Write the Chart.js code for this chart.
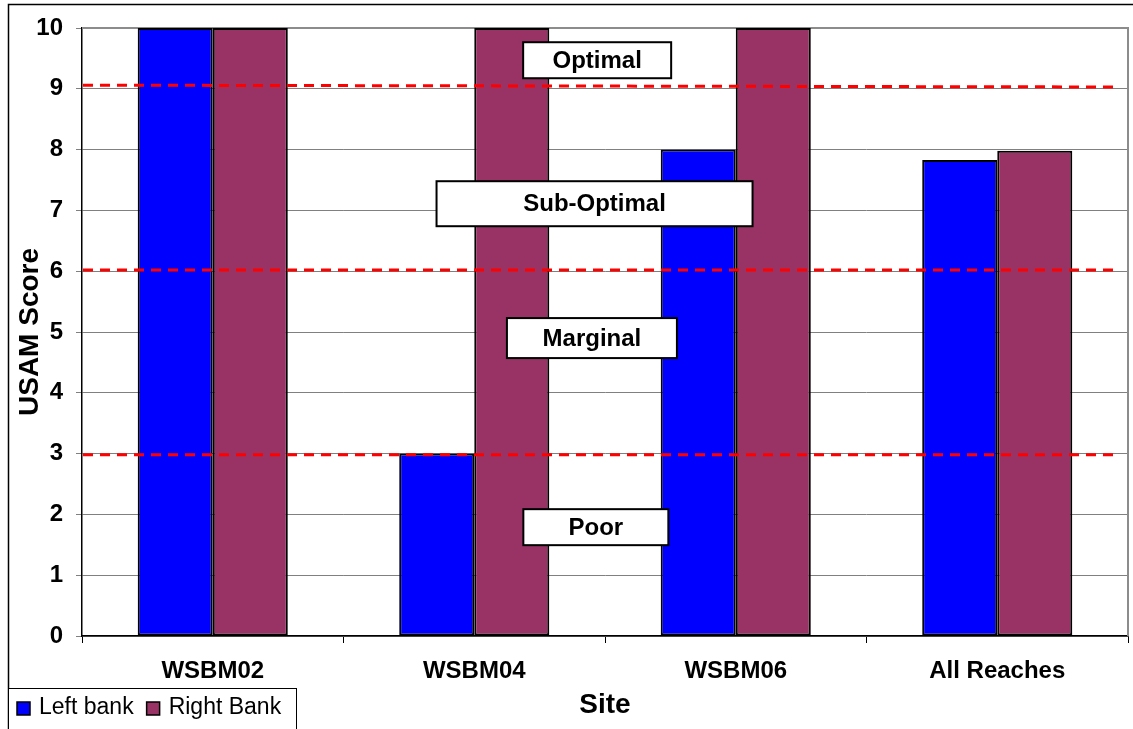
<!DOCTYPE html>
<html>
<head>
<meta charset="utf-8">
<script src="https://cdn.jsdelivr.net/npm/chart.js@4.4.1/dist/chart.umd.min.js"></script>
<style>
  html, body { margin: 0; padding: 0; background: #ffffff; }
  #wrap { position: relative; width: 1133px; height: 729px; }
  canvas { display: block; }
</style>
</head>
<body>
<div id="wrap"><canvas id="c" width="1133" height="729"></canvas></div>
<script>
// ---- data ----
const sites = ['WSBM02', 'WSBM04', 'WSBM06', 'All Reaches'];
const leftBank = [10, 3, 8, 7.83];
const rightBank = [10, 10, 10, 7.98];
const seriesNames = ['Left bank', 'Right Bank'];
const yTicks = [0, 1, 2, 3, 4, 5, 6, 7, 8, 9, 10];
// class boundary lines (value at left end, value at right end)
const boundaryStart = [9.06, 6.02, 2.98];
const boundaryEnd = [9.03, 6.02, 2.98];
// class labels and their anchor (category position, score)
const classNames = ['Optimal', 'Sub-Optimal', 'Marginal', 'Poor'];
const classX = [1.47, 1.46, 1.45, 1.465];
const classY = [9.47, 7.11, 4.90, 1.79];
const classBoxW = [148, 316, 170, 145];
const classBoxH = [36, 45, 40, 36];

const FONT = '"Liberation Sans", Arial, sans-serif';

const framePlugin = {
  id: 'frame',
  beforeDraw(chart) {
    const ctx = chart.ctx;
    ctx.save();
    ctx.fillStyle = '#ffffff';
    ctx.fillRect(0, 0, chart.width, chart.height);
    ctx.strokeStyle = '#000000';
    ctx.lineWidth = 1.5;
    ctx.strokeRect(8.5, 4.5, chart.width + 20, chart.height + 20);
    ctx.restore();
  },
  beforeDatasetsDraw(chart) {
    const ctx = chart.ctx;
    const a = chart.chartArea;
    ctx.save();
    ctx.strokeStyle = '#8c8c8c';
    ctx.lineWidth = 2;
    ctx.beginPath();
    ctx.moveTo(a.left, a.top);
    ctx.lineTo(a.right, a.top);
    ctx.lineTo(a.right, a.bottom);
    ctx.stroke();
    ctx.restore();
  },
  afterDatasetsDraw(chart) {
    const ctx = chart.ctx;
    const a = chart.chartArea;
    const y = chart.scales.y;
    const x = chart.scales.x;
    ctx.save();
    ctx.strokeStyle = '#ff0000';
    ctx.lineWidth = 3;
    ctx.setLineDash([10, 7]);
    for (let i = 0; i < boundaryStart.length; i++) {
      ctx.beginPath();
      ctx.moveTo(a.left + 1, y.getPixelForValue(boundaryStart[i]));
      ctx.lineTo(a.right - 14, y.getPixelForValue(boundaryEnd[i]));
      ctx.stroke();
    }
    ctx.setLineDash([]);
    ctx.font = 'bold 24px ' + FONT;
    ctx.textAlign = 'center';
    ctx.textBaseline = 'middle';
    for (let i = 0; i < classNames.length; i++) {
      const cx = x.getPixelForValue(classX[i]);
      const cy = y.getPixelForValue(classY[i]);
      const w = classBoxW[i], h = classBoxH[i];
      ctx.fillStyle = '#ffffff';
      ctx.fillRect(cx - w / 2, cy - h / 2, w, h);
      ctx.strokeStyle = '#000000';
      ctx.lineWidth = 2;
      ctx.strokeRect(cx - w / 2, cy - h / 2, w, h);
      ctx.fillStyle = '#000000';
      ctx.fillText(classNames[i], cx, cy + 1);
    }
    ctx.restore();
  },
  afterDraw(chart) {
    const ctx = chart.ctx;
    ctx.save();
    ctx.fillStyle = '#ffffff';
    ctx.fillRect(8, 688, 288, 50);
    ctx.strokeStyle = '#000000';
    ctx.lineWidth = 1;
    ctx.strokeRect(8.5, 688.5, 288, 50);
    ctx.font = '23px ' + FONT;
    ctx.textBaseline = 'middle';
    ctx.textAlign = 'left';
    let px = 17;
    chart.data.datasets.forEach((ds) => {
      ctx.fillStyle = ds.backgroundColor;
      ctx.fillRect(px, 702, 13, 13);
      ctx.strokeStyle = '#000000';
      ctx.lineWidth = 1.5;
      ctx.strokeRect(px, 702, 13, 13);
      ctx.fillStyle = '#000000';
      ctx.fillText(ds.label, px + 22, 708);
      px += 22 + ctx.measureText(ds.label).width + 13;
    });
    ctx.restore();
  }
};

new Chart(document.getElementById('c'), {
  type: 'bar',
  data: {
    labels: sites,
    datasets: [
      { label: seriesNames[0], data: leftBank, backgroundColor: '#0000ff', borderColor: '#000000', borderWidth: 2, borderSkipped: false },
      { label: seriesNames[1], data: rightBank, backgroundColor: '#993366', borderColor: '#000000', borderWidth: 2, borderSkipped: false }
    ]
  },
  options: {
    responsive: false,
    animation: false,
    devicePixelRatio: 1,
    layout: { padding: { left: 10, top: 28, right: 5, bottom: 0 } },
    datasets: { bar: { categoryPercentage: 0.574, barPercentage: 1.0 } },
    plugins: { legend: { display: false }, tooltip: { enabled: false } },
    scales: {
      x: {
        grid: { display: true, offset: true, drawOnChartArea: false, drawTicks: true, tickLength: 7, color: '#000000', lineWidth: 1 },
        border: { display: true, color: '#000000', width: 1.5 },
        ticks: { color: '#000000', font: { family: FONT, size: 24, weight: 'bold' }, padding: 14 },
        title: { display: true, text: 'Site', color: '#000000', font: { family: FONT, size: 28, weight: 'bold' }, padding: { top: 0, bottom: 7 } },
        afterFit(scale) { scale.height = 93; }
      },
      y: {
        min: 0, max: 10,
        afterBuildTicks(scale) { scale.ticks = yTicks.map(v => ({ value: v })); },
        grid: { color: '#808080', lineWidth: 1, tickLength: 6, drawTicks: true, tickColor: '#808080' },
        border: { display: true, color: '#000000', width: 1.5 },
        ticks: { color: '#000000', font: { family: FONT, size: 24, weight: 'bold' }, padding: 13 },
        title: { display: true, text: 'USAM Score', color: '#000000', font: { family: FONT, size: 28, weight: 'bold' }, padding: { top: 3, bottom: 0 } },
        afterFit(scale) { scale.width = 72; }
      }
    }
  },
  plugins: [framePlugin]
});
</script>
</body>
</html>
